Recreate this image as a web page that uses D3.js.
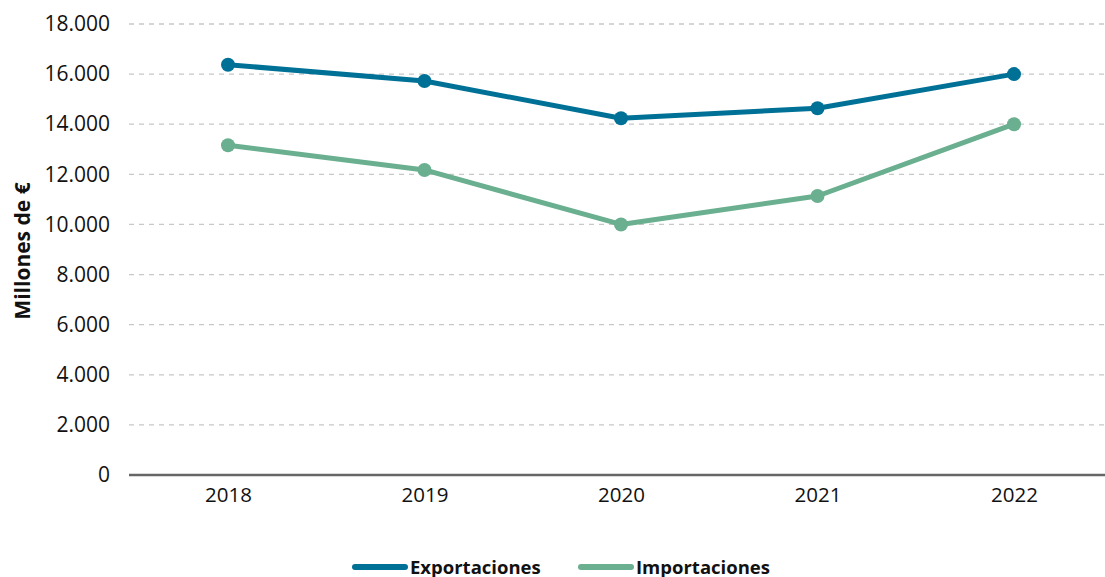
<!DOCTYPE html>
<html><head><meta charset="utf-8">
<script src="https://cdn.jsdelivr.net/npm/d3@7"></script>
<style>body{margin:0;background:#fff}svg{display:block;font-family:"Open Sans",sans-serif}</style>
</head><body><svg id="c" width="1105" height="577"></svg>
<script>
const years = ["2018","2019","2020","2021","2022"];
const exportaciones = [16375, 15725, 14240, 14640, 16000];
const importaciones = [13160, 12175, 10000, 11135, 14000];
const yTicks = [0,2000,4000,6000,8000,10000,12000,14000,16000,18000];
const seriesNames = ["Exportaciones","Importaciones"];
const colors = ["#007196","#6aaf8f"];

const svg = d3.select("#c");
const x = d3.scalePoint().domain(years).range([228, 1014]);
const y = d3.scaleLinear().domain([0,18000]).range([475, 24]);
const fmt = v => d3.format(",")(v).replace(/,/g,".");

// grid
svg.append("g").selectAll("line").data(yTicks.filter(d=>d>0)).join("line")
  .attr("x1",129).attr("x2",1105).attr("y1",d=>y(d)).attr("y2",d=>y(d))
  .attr("stroke","#c8c8c8").attr("stroke-width",1.3).attr("stroke-dasharray","5,5");

// y axis labels
const ya = svg.append("g").attr("transform","translate(110,0)")
  .call(d3.axisLeft(y).tickValues(yTicks).tickFormat(fmt).tickSize(0).tickPadding(0));
ya.select(".domain").remove();
ya.selectAll("text").attr("font-size",21).attr("fill","#111").attr("font-family","Open Sans");

// x axis
const xa = svg.append("g").attr("transform","translate(0,475)")
  .call(d3.axisBottom(x).tickSize(0).tickPadding(12));
xa.select(".domain").remove();
xa.selectAll("text").attr("font-size",20.5).attr("fill","#111").attr("font-family","Open Sans");
svg.append("line").attr("x1",129).attr("x2",1105).attr("y1",y(0)).attr("y2",y(0))
  .attr("stroke","#666").attr("stroke-width",2.5);

// y title
svg.append("text").attr("transform","translate(30,251) rotate(-90)")
  .attr("text-anchor","middle").attr("font-size",21).attr("font-weight","bold").attr("fill","#111")
  .text("Millones de €");

const data = [exportaciones, importaciones];
const line = d3.line().x((d,i)=>x(years[i])).y(d=>y(d));
data.forEach((s,k)=>{
  svg.append("path").datum(s).attr("d",line).attr("fill","none")
    .attr("stroke",colors[k]).attr("stroke-width",5).attr("stroke-linejoin","round");
  svg.append("g").selectAll("circle").data(s).join("circle")
    .attr("cx",(d,i)=>x(years[i])).attr("cy",d=>y(d)).attr("r",7).attr("fill",colors[k]);
});

// legend
const lg = [352, 578];
seriesNames.forEach((n,k)=>{
  svg.append("line").attr("x1",lg[k]+3).attr("x2",lg[k]+53).attr("y1",567).attr("y2",567)
    .attr("stroke",colors[k]).attr("stroke-width",6).attr("stroke-linecap","round");
  svg.append("text").attr("x",lg[k]+58).attr("y",574).attr("font-size",18.5).attr("font-weight","bold")
    .attr("fill","#111").text(n);
});
</script></body></html>
